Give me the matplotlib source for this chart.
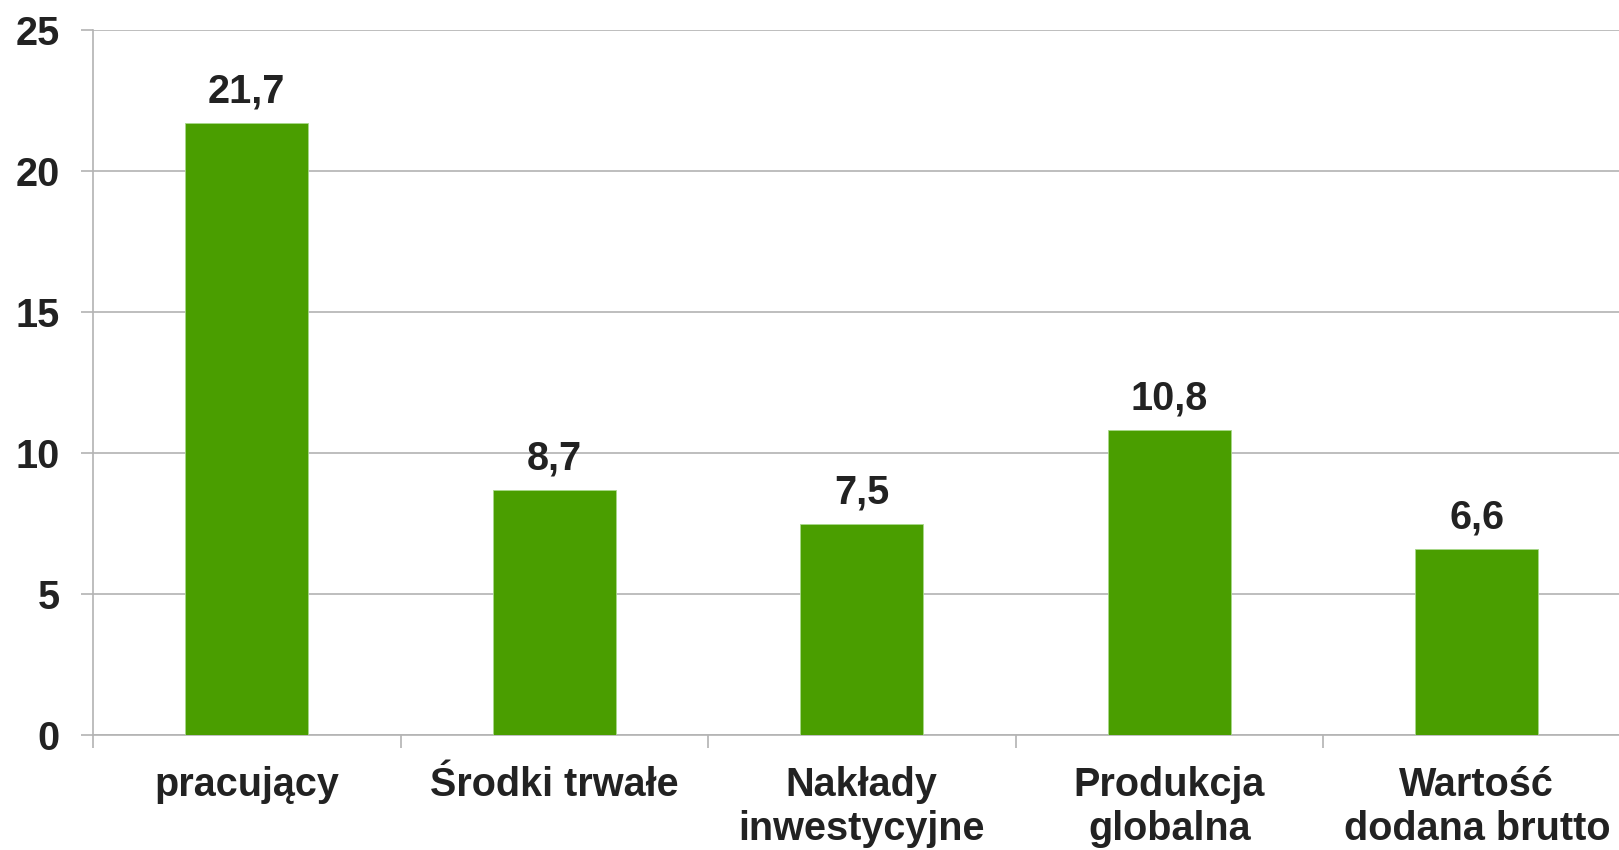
import numpy as np
import matplotlib
matplotlib.use("Agg")
import matplotlib.pyplot as plt

# dane
categories = ["pracujący", "Środki trwałe", "Nakłady\ninwestycyjne",
              "Produkcja\nglobalna", "Wartość\ndodana brutto"]
values = [21.7, 8.7, 7.5, 10.8, 6.6]
value_labels = ["21,7", "8,7", "7,5", "10,8", "6,6"]
y_ticks = [0, 5, 10, 15, 20, 25]

plt.rcParams['font.family'] = ['Liberation Sans', 'DejaVu Sans']
plt.rcParams['font.weight'] = 'bold'

fig = plt.figure(figsize=(16.19, 8.5), dpi=100)
ax = fig.add_axes([93 / 1619, 1 - 735 / 850, 1537.5 / 1619, 705 / 850])

grid_col = '#b3b3b3'
text_col = '#222222'
fs = 28.5
x = np.arange(len(categories))
ax.bar(x, values, width=0.4, color='#4a9e00', edgecolor='#a8d88a',
       linewidth=0.6, zorder=3)

for xi, v, lab in zip(x, values, value_labels):
    ax.annotate(lab, (xi, v), xytext=(0, 9), textcoords='offset points',
                ha='center', va='bottom', fontsize=fs, fontweight='bold',
                color=text_col)

ax.set_xlim(-0.5, len(categories) - 0.5)
ax.set_ylim(0, 25)
ax.set_yticks(y_ticks)
ax.set_yticklabels([str(t) for t in y_ticks], fontsize=fs, fontweight='bold',
                   color=text_col)
ax.yaxis.grid(True, color=grid_col, linewidth=1.2, zorder=0)
ax.tick_params(axis='y', length=9, color=grid_col, width=1.2, pad=15)

ax.set_xticks(x)
ax.set_xticklabels(categories, fontsize=fs, fontweight='bold', color=text_col,
                   linespacing=1.2)
ax.set_xticks(np.arange(len(categories)) - 0.5, minor=True)
ax.tick_params(axis='x', which='major', length=0, pad=22)
ax.tick_params(axis='x', which='minor', length=9, color=grid_col, width=1.2)

for s in ['top', 'right']:
    ax.spines[s].set_visible(False)
for s in ['left', 'bottom']:
    ax.spines[s].set_color(grid_col)
    ax.spines[s].set_linewidth(1.2)

fig.savefig('out.png', dpi=100, facecolor='white')
